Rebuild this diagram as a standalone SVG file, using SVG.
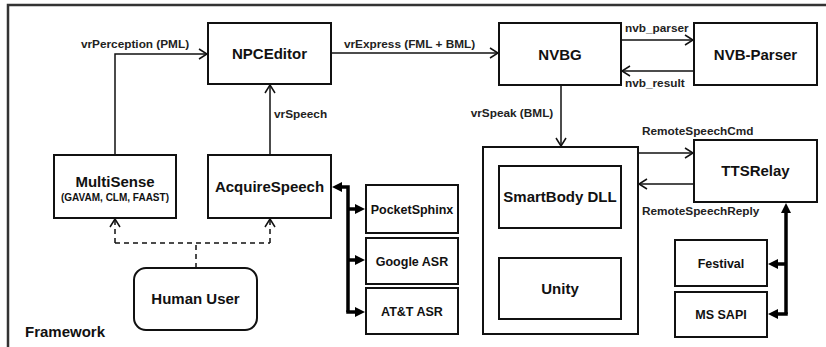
<svg xmlns="http://www.w3.org/2000/svg" width="826" height="347" viewBox="0 0 826 347">
<defs>
<style>
.box{fill:#fff;stroke:#111;stroke-width:2}
.nt{font-family:"Liberation Sans",Arial,sans-serif;font-weight:bold;font-size:15px;fill:#111;text-anchor:middle}
.st{font-family:"Liberation Sans",Arial,sans-serif;font-weight:bold;font-size:12.5px;fill:#111;text-anchor:middle}
.lb{font-family:"Liberation Sans",Arial,sans-serif;font-weight:bold;font-size:11.8px;fill:#222}
.thin{fill:none;stroke:#111;stroke-width:1.5}
.dash{fill:none;stroke:#111;stroke-width:1.5;stroke-dasharray:5,4}
.thick{fill:none;stroke:#000;stroke-width:3.5}
</style>
<marker id="open" markerUnits="userSpaceOnUse" markerWidth="12" markerHeight="12" refX="8" refY="5" orient="auto" overflow="visible">
<path d="M0,0 L8,5 L0,10" fill="none" stroke="#111" stroke-width="1.5"/>
</marker>
<marker id="fill" markerUnits="userSpaceOnUse" markerWidth="12" markerHeight="12" refX="2" refY="5" orient="auto-start-reverse" overflow="visible">
<path d="M0,0 L10,5 L0,10 z" fill="#000"/>
</marker>
</defs>
<rect width="826" height="347" fill="#fff"/>
<path d="M8,347 V5 H826" fill="none" stroke="#333" stroke-width="2.5"/>

<g id="connectors">
<path class="thin" d="M115,155 V54 H207" marker-end="url(#open)"/>
<path class="thin" d="M270,155 V85" marker-end="url(#open)"/>
<path class="thin" d="M331,53 H498" marker-end="url(#open)"/>
<path class="thin" d="M621,40 H693" marker-end="url(#open)"/>
<path class="thin" d="M694,71 H622" marker-end="url(#open)"/>
<path class="thin" d="M561,86 V146" marker-end="url(#open)"/>
<path class="thin" d="M638,153 H693" marker-end="url(#open)"/>
<path class="thin" d="M694,184 H639" marker-end="url(#open)"/>
<path class="dash" d="M196,268 V243"/>
<path class="dash" d="M115,243 H270"/>
<path class="dash" d="M115,243 V219" marker-end="url(#open)"/>
<path class="dash" d="M270,243 V219" marker-end="url(#open)"/>
<path class="thick" d="M348,312 V187 H340" marker-end="url(#fill)"/>
<path class="thick" d="M348,209 H357" marker-end="url(#fill)"/>
<path class="thick" d="M348,260 H357" marker-end="url(#fill)"/>
<path class="thick" d="M346.25,312 H357" marker-end="url(#fill)"/>
<path class="thick" d="M561,237 V249" marker-start="url(#fill)" marker-end="url(#fill)"/>
<path class="thick" d="M786,314 V211" marker-end="url(#fill)"/>
<path class="thick" d="M786,264 H776" marker-end="url(#fill)"/>
<path class="thick" d="M787.75,314 H776" marker-end="url(#fill)"/>
<text class="lb" x="135" y="48" text-anchor="middle">vrPerception (PML)</text>
<text class="lb" x="274" y="118">vrSpeech</text>
<text class="lb" x="409.5" y="48" text-anchor="middle">vrExpress (FML + BML)</text>
<text class="lb" x="512" y="117" text-anchor="middle">vrSpeak (BML)</text>
<text class="lb" x="625" y="32">nvb_parser</text>
<text class="lb" x="625" y="87">nvb_result</text>
<text class="lb" x="642" y="135">RemoteSpeechCmd</text>
<text class="lb" x="642" y="215">RemoteSpeechReply</text>
</g>

<g id="npceditor"><rect class="box" x="208" y="23" width="123" height="61"/><text class="nt" x="269.5" y="59">NPCEditor</text></g>
<g id="nvbg"><rect class="box" x="499" y="23" width="122" height="62"/><text class="nt" x="560" y="59.5">NVBG</text></g>
<g id="nvbparser"><rect class="box" x="694" y="23" width="123" height="62"/><text class="nt" x="755.5" y="59.5">NVB-Parser</text></g>
<g id="multisense"><rect class="box" x="54" y="155" width="122" height="63"/><text class="nt" x="115" y="187">MultiSense</text><text class="st" x="115" y="200.5" style="font-size:10px">(GAVAM, CLM, FAAST)</text></g>
<g id="acquirespeech"><rect class="box" x="208" y="155" width="123" height="63"/><text class="nt" x="269.5" y="192">AcquireSpeech</text></g>
<g id="humanuser"><rect class="box" x="134" y="268" width="123" height="62" rx="12"/><text class="nt" x="195.5" y="304">Human User</text></g>
<g id="pocketsphinx"><rect class="box" x="366" y="185" width="92" height="48"/><text class="st" x="412" y="213.5">PocketSphinx</text></g>
<g id="googleasr"><rect class="box" x="366" y="238" width="92" height="46"/><text class="st" x="412" y="265.5">Google ASR</text></g>
<g id="attasr"><rect class="box" x="366" y="288" width="92" height="46"/><text class="st" x="412" y="315.5">AT&amp;T ASR</text></g>
<g id="container"><rect class="box" x="483" y="147" width="155" height="187"/></g>
<g id="smartbody"><rect class="box" x="499" y="166" width="122" height="62"/><text class="nt" x="560" y="202">SmartBody DLL</text></g>
<g id="unity"><rect class="box" x="499" y="258" width="122" height="61"/><text class="nt" x="560" y="294">Unity</text></g>
<g id="ttsrelay"><rect class="box" x="694" y="140" width="123" height="62"/><text class="nt" x="755.5" y="176">TTSRelay</text></g>
<g id="festival"><rect class="box" x="675" y="240" width="92" height="46"/><text class="st" x="721" y="267.5">Festival</text></g>
<g id="mssapi"><rect class="box" x="675" y="292" width="92" height="45"/><text class="st" x="721" y="319">MS SAPI</text></g>
<text class="nt" x="25" y="337" style="text-anchor:start">Framework</text>
</svg>
